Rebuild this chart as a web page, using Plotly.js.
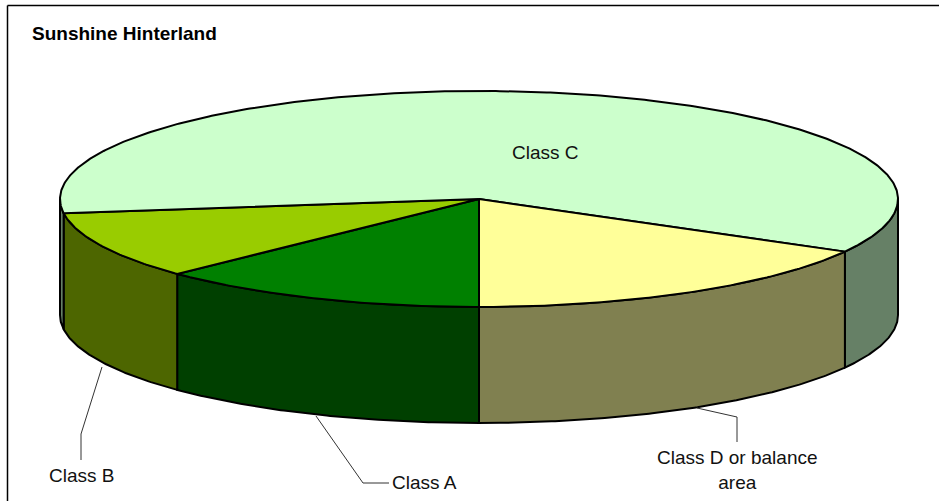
<!DOCTYPE html>
<html>
<head>
<meta charset="utf-8">
<script src="https://cdn.plot.ly/plotly-3.0.1.min.js"></script>
<style>html,body{margin:0;padding:0;background:#fff}#chart{width:939px;height:501px}</style>
</head>
<body>
<div id="chart"></div>
<script>
// Data
const categories = ['Class A', 'Class B', 'Class C', 'Class D or balance area'];
const shares = [12.8, 10.1, 60.2, 16.9];
const topColors = ['#008000', '#99CC00', '#CCFFCC', '#FFFF99'];
const sideColors = ['#004000', '#4D6600', '#668066', '#808050'];
const firstSliceAngle = 180; // degrees clockwise from 12 o'clock
const chartTitle = 'Sunshine Hinterland';

// Projection of the tilted pie into the page's pixel space
const cx = 479, cy = 199, rx = 419, ry = 108, depth = 116;
const px = a => cx + rx * Math.sin(a * Math.PI / 180);
const py = a => cy - ry * Math.cos(a * Math.PI / 180);
const arc = (a0, a1) => {
  const n = Math.max(2, Math.ceil(Math.abs(a1 - a0) * 2)), out = [];
  for (let i = 0; i <= n; i++) out.push(a0 + (a1 - a0) * i / n);
  return out;
};

const total = shares.reduce((s, v) => s + v, 0);
let running = firstSliceAngle;
const slices = shares.map((v, i) => {
  const a0 = running, a1 = running + v / total * 360;
  running = a1;
  return {i, a0, a1};
});

const outline = {color: '#000', width: 2};
const sideTraces = [], topTraces = [];

// Outer walls: only the part of the rim on the near half (90..270 degrees) shows
slices.forEach(s => {
  [0, 360].forEach(shift => {
    const lo = Math.max(s.a0 - shift, 90), hi = Math.min(s.a1 - shift, 270);
    if (hi <= lo) return;
    const as = arc(lo, hi);
    const x = as.map(px).concat(as.slice().reverse().map(px));
    const y = as.map(a => py(a) + depth).concat(as.slice().reverse().map(py));
    x.push(x[0]); y.push(y[0]);
    sideTraces.push({type: 'scatter', mode: 'lines', x, y, fill: 'toself',
      fillcolor: sideColors[s.i], line: outline, hoverinfo: 'skip', showlegend: false});
  });
});

// Top faces
slices.forEach(s => {
  const as = arc(s.a0, s.a1);
  const x = [cx].concat(as.map(px), [cx]);
  const y = [cy].concat(as.map(py), [cy]);
  topTraces.push({type: 'scatter', mode: 'lines', x, y, fill: 'toself',
    fillcolor: topColors[s.i], line: outline, name: categories[s.i],
    hoverinfo: 'name', showlegend: false});
});

// Leader lines (page pixels)
const leader = (x, y) => ({type: 'scatter', mode: 'lines', x, y,
  line: {color: '#333', width: 1}, hoverinfo: 'skip', showlegend: false});
const leaders = [
  leader([102, 81, 81], [367, 434, 460]),
  leader([316, 363, 389], [416, 483, 483]),
  leader([697, 737, 737], [408, 417, 442])
];

const fontFamily = 'Liberation Sans, Arial, sans-serif';
const label = (text, x, y, anchor) => ({text, x, y, xref: 'x', yref: 'y',
  showarrow: false, xanchor: anchor || 'center', yanchor: 'middle', align: 'center',
  font: {family: fontFamily, size: 19, color: '#111'}});

const layout = {
  width: 939, height: 501,
  margin: {l: 0, r: 0, t: 0, b: 0},
  paper_bgcolor: '#fff', plot_bgcolor: '#fff',
  showlegend: false,
  xaxis: {range: [0, 939], visible: false, fixedrange: true},
  yaxis: {range: [501, 0], visible: false, fixedrange: true},
  shapes: [
    {type: 'line', xref: 'x', yref: 'y', x0: 7.5, x1: 7.5, y0: 5.5, y1: 501, line: {color: '#000', width: 1.5}},
    {type: 'line', xref: 'x', yref: 'y', x0: 7.5, x1: 939, y0: 5.5, y1: 5.5, line: {color: '#000', width: 1.5}}
  ],
  annotations: [
    Object.assign(label(chartTitle, 30, 33, 'left'), {font: {family: fontFamily, size: 19, color: '#000', weight: 700}}),
    label(categories[2], 545, 152),
    label(categories[1], 81, 475),
    label(categories[0], 424, 482),
    label('Class D or balance<br>area', 737, 469.5)
  ]
};

Plotly.newPlot('chart', sideTraces.concat(topTraces, leaders), layout, {displayModeBar: false, staticPlot: true});
</script>
</body>
</html>
